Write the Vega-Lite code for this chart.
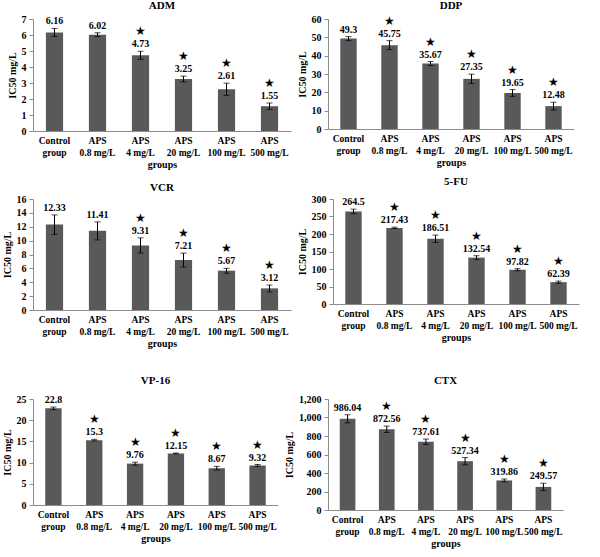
{
  "$schema": "https://vega.github.io/schema/vega-lite/v6.json",
  "padding": {"left": 2, "top": 0, "right": 2, "bottom": 2},
  "background": "white",
  "data": {"values": [
    {"drug": "ADM", "group": "Control group", "value": 6.16, "lo": 5.91, "hi": 6.41, "sig": false},
    {"drug": "ADM", "group": "APS 0.8 mg/L", "value": 6.02, "lo": 5.9, "hi": 6.14, "sig": false},
    {"drug": "ADM", "group": "APS 4 mg/L", "value": 4.73, "lo": 4.48, "hi": 4.98, "sig": true},
    {"drug": "ADM", "group": "APS 20 mg/L", "value": 3.25, "lo": 3.07, "hi": 3.43, "sig": true},
    {"drug": "ADM", "group": "APS 100 mg/L", "value": 2.61, "lo": 2.23, "hi": 2.99, "sig": true},
    {"drug": "ADM", "group": "APS 500 mg/L", "value": 1.55, "lo": 1.35, "hi": 1.75, "sig": true},
    {"drug": "DDP", "group": "Control group", "value": 49.3, "lo": 48.2, "hi": 50.4, "sig": false},
    {"drug": "DDP", "group": "APS 0.8 mg/L", "value": 45.75, "lo": 43.3, "hi": 48.2, "sig": true},
    {"drug": "DDP", "group": "APS 4 mg/L", "value": 35.67, "lo": 34.6, "hi": 36.8, "sig": true},
    {"drug": "DDP", "group": "APS 20 mg/L", "value": 27.35, "lo": 24.8, "hi": 29.9, "sig": true},
    {"drug": "DDP", "group": "APS 100 mg/L", "value": 19.65, "lo": 17.8, "hi": 21.5, "sig": true},
    {"drug": "DDP", "group": "APS 500 mg/L", "value": 12.48, "lo": 10.3, "hi": 14.6, "sig": true},
    {"drug": "VCR", "group": "Control group", "value": 12.33, "lo": 10.9, "hi": 13.7, "sig": false},
    {"drug": "VCR", "group": "APS 0.8 mg/L", "value": 11.41, "lo": 10.1, "hi": 12.7, "sig": false},
    {"drug": "VCR", "group": "APS 4 mg/L", "value": 9.31, "lo": 8.2, "hi": 10.4, "sig": true},
    {"drug": "VCR", "group": "APS 20 mg/L", "value": 7.21, "lo": 6.2, "hi": 8.2, "sig": true},
    {"drug": "VCR", "group": "APS 100 mg/L", "value": 5.67, "lo": 5.3, "hi": 6.0, "sig": true},
    {"drug": "VCR", "group": "APS 500 mg/L", "value": 3.12, "lo": 2.6, "hi": 3.6, "sig": true},
    {"drug": "5-FU", "group": "Control group", "value": 264.5, "lo": 258, "hi": 271, "sig": false},
    {"drug": "5-FU", "group": "APS 0.8 mg/L", "value": 217.43, "lo": 215.5, "hi": 219.5, "sig": true},
    {"drug": "5-FU", "group": "APS 4 mg/L", "value": 186.51, "lo": 176, "hi": 197, "sig": true},
    {"drug": "5-FU", "group": "APS 20 mg/L", "value": 132.54, "lo": 127, "hi": 138, "sig": true},
    {"drug": "5-FU", "group": "APS 100 mg/L", "value": 97.82, "lo": 95, "hi": 101, "sig": true},
    {"drug": "5-FU", "group": "APS 500 mg/L", "value": 62.39, "lo": 59, "hi": 65.5, "sig": true},
    {"drug": "VP-16", "group": "Control group", "value": 22.8, "lo": 22.5, "hi": 23.1, "sig": false},
    {"drug": "VP-16", "group": "APS 0.8 mg/L", "value": 15.3, "lo": 15.1, "hi": 15.5, "sig": true},
    {"drug": "VP-16", "group": "APS 4 mg/L", "value": 9.76, "lo": 9.4, "hi": 10.1, "sig": true},
    {"drug": "VP-16", "group": "APS 20 mg/L", "value": 12.15, "lo": 12.05, "hi": 12.25, "sig": true},
    {"drug": "VP-16", "group": "APS 100 mg/L", "value": 8.67, "lo": 8.25, "hi": 9.1, "sig": true},
    {"drug": "VP-16", "group": "APS 500 mg/L", "value": 9.32, "lo": 9.1, "hi": 9.55, "sig": true},
    {"drug": "CTX", "group": "Control group", "value": 986.04, "lo": 942, "hi": 1030, "sig": false},
    {"drug": "CTX", "group": "APS 0.8 mg/L", "value": 872.56, "lo": 838, "hi": 907, "sig": true},
    {"drug": "CTX", "group": "APS 4 mg/L", "value": 737.61, "lo": 708, "hi": 767, "sig": true},
    {"drug": "CTX", "group": "APS 20 mg/L", "value": 527.34, "lo": 488, "hi": 567, "sig": true},
    {"drug": "CTX", "group": "APS 100 mg/L", "value": 319.86, "lo": 305, "hi": 335, "sig": true},
    {"drug": "CTX", "group": "APS 500 mg/L", "value": 249.57, "lo": 210, "hi": 289, "sig": true}
  ]},
  "config": {
    "view": {"stroke": null},
    "font": "Liberation Serif",
    "title": {"font": "Liberation Serif", "fontSize": 11, "fontWeight": "bold", "color": "black", "offset": 3},
    "axis": {
      "labelFont": "Liberation Serif", "labelFontWeight": "bold", "labelFontSize": 10, "labelColor": "black",
      "titleFont": "Liberation Serif", "titleFontWeight": "bold", "titleFontSize": 10, "titleColor": "black",
      "domainColor": "#8c8c8c", "tickColor": "#8c8c8c", "grid": false, "labelOverlap": false
    },
    "axisX": {"labelAngle": 0, "ticks": false, "labelPadding": 4, "titlePadding": 3, "labelLineHeight": 12, "labelFontSize": 9.5},
    "axisY": {"tickSize": 4, "labelPadding": 3, "titlePadding": 4},
    "concat": {"spacing": 6}
  },
  "vconcat": [
    {"hconcat": [
      {
        "width": 258, "height": 112,
        "title": "ADM",
        "transform": [{"filter": "datum.drug === 'ADM'"}],
        "encoding": {"x": {"field": "group", "type": "nominal", "sort": null, "title": "groups", "scale": {"paddingInner": 0.6, "paddingOuter": 0.3},
          "axis": {"labelExpr": "[substring(datum.label,0,indexof(datum.label,' ')), substring(datum.label,indexof(datum.label,' ')+1)]"}}},
        "layer": [
          {"mark": {"type": "bar", "color": "#595959"}, "encoding": {"y": {"field": "value", "type": "quantitative", "title": "IC50 mg/L", "scale": {"domain": [0, 7], "nice": false}, "axis": {"values": [0,1,2,3,4,5,6,7], "format": "d"}}}},
          {"mark": {"type": "errorbar", "ticks": {"size": 6}, "color": "black"}, "encoding": {"y": {"field": "lo", "type": "quantitative", "title": "IC50 mg/L", "scale": {"domain": [0, 7], "nice": false}, "axis": {"values": [0,1,2,3,4,5,6,7], "format": "d"}}, "y2": {"field": "hi"}}},
          {"mark": {"type": "text", "baseline": "bottom", "dy": -2, "fontWeight": "bold", "fontSize": 10}, "encoding": {"y": {"field": "hi", "type": "quantitative", "title": "IC50 mg/L", "scale": {"domain": [0, 7], "nice": false}, "axis": {"values": [0,1,2,3,4,5,6,7], "format": "d"}}, "text": {"field": "value"}}},
          {"transform": [{"filter": "datum.sig"}], "mark": {"type": "text", "baseline": "bottom", "dy": -13, "fontSize": 12, "text": "★"}, "encoding": {"y": {"field": "hi", "type": "quantitative", "title": "IC50 mg/L", "scale": {"domain": [0, 7], "nice": false}, "axis": {"values": [0,1,2,3,4,5,6,7], "format": "d"}}}}
        ]
      },
      {
        "width": 246, "height": 110,
        "title": "DDP",
        "transform": [{"filter": "datum.drug === 'DDP'"}],
        "encoding": {"x": {"field": "group", "type": "nominal", "sort": null, "title": "groups", "scale": {"paddingInner": 0.6, "paddingOuter": 0.3},
          "axis": {"labelExpr": "[substring(datum.label,0,indexof(datum.label,' ')), substring(datum.label,indexof(datum.label,' ')+1)]"}}},
        "layer": [
          {"mark": {"type": "bar", "color": "#595959"}, "encoding": {"y": {"field": "value", "type": "quantitative", "title": "IC50 mg/L", "scale": {"domain": [0, 60], "nice": false}, "axis": {"values": [0,10,20,30,40,50,60], "format": "d"}}}},
          {"mark": {"type": "errorbar", "ticks": {"size": 6}, "color": "black"}, "encoding": {"y": {"field": "lo", "type": "quantitative", "title": "IC50 mg/L", "scale": {"domain": [0, 60], "nice": false}, "axis": {"values": [0,10,20,30,40,50,60], "format": "d"}}, "y2": {"field": "hi"}}},
          {"mark": {"type": "text", "baseline": "bottom", "dy": -2, "fontWeight": "bold", "fontSize": 10}, "encoding": {"y": {"field": "hi", "type": "quantitative", "title": "IC50 mg/L", "scale": {"domain": [0, 60], "nice": false}, "axis": {"values": [0,10,20,30,40,50,60], "format": "d"}}, "text": {"field": "value"}}},
          {"transform": [{"filter": "datum.sig"}], "mark": {"type": "text", "baseline": "bottom", "dy": -13, "fontSize": 12, "text": "★"}, "encoding": {"y": {"field": "hi", "type": "quantitative", "title": "IC50 mg/L", "scale": {"domain": [0, 60], "nice": false}, "axis": {"values": [0,10,20,30,40,50,60], "format": "d"}}}}
        ]
      }
    ]},
    {"hconcat": [
      {
        "width": 258, "height": 111,
        "title": {"text": "VCR", "offset": 1},
        "transform": [{"filter": "datum.drug === 'VCR'"}],
        "encoding": {"x": {"field": "group", "type": "nominal", "sort": null, "title": "groups", "scale": {"paddingInner": 0.6, "paddingOuter": 0.3},
          "axis": {"labelExpr": "[substring(datum.label,0,indexof(datum.label,' ')), substring(datum.label,indexof(datum.label,' ')+1)]"}}},
        "layer": [
          {"mark": {"type": "bar", "color": "#595959"}, "encoding": {"y": {"field": "value", "type": "quantitative", "title": "IC50 mg/L", "scale": {"domain": [0, 16], "nice": false}, "axis": {"values": [0,2,4,6,8,10,12,14,16], "format": "d"}}}},
          {"mark": {"type": "errorbar", "ticks": {"size": 6}, "color": "black"}, "encoding": {"y": {"field": "lo", "type": "quantitative", "title": "IC50 mg/L", "scale": {"domain": [0, 16], "nice": false}, "axis": {"values": [0,2,4,6,8,10,12,14,16], "format": "d"}}, "y2": {"field": "hi"}}},
          {"mark": {"type": "text", "baseline": "bottom", "dy": -2, "fontWeight": "bold", "fontSize": 10}, "encoding": {"y": {"field": "hi", "type": "quantitative", "title": "IC50 mg/L", "scale": {"domain": [0, 16], "nice": false}, "axis": {"values": [0,2,4,6,8,10,12,14,16], "format": "d"}}, "text": {"field": "value"}}},
          {"transform": [{"filter": "datum.sig"}], "mark": {"type": "text", "baseline": "bottom", "dy": -13, "fontSize": 12, "text": "★"}, "encoding": {"y": {"field": "hi", "type": "quantitative", "title": "IC50 mg/L", "scale": {"domain": [0, 16], "nice": false}, "axis": {"values": [0,2,4,6,8,10,12,14,16], "format": "d"}}}}
        ]
      },
      {
        "width": 246, "height": 105,
        "title": {"text": "5-FU", "offset": 7},
        "transform": [{"filter": "datum.drug === '5-FU'"}],
        "encoding": {"x": {"field": "group", "type": "nominal", "sort": null, "title": "groups", "scale": {"paddingInner": 0.6, "paddingOuter": 0.3},
          "axis": {"labelExpr": "[substring(datum.label,0,indexof(datum.label,' ')), substring(datum.label,indexof(datum.label,' ')+1)]"}}},
        "layer": [
          {"mark": {"type": "bar", "color": "#595959"}, "encoding": {"y": {"field": "value", "type": "quantitative", "title": "IC50 mg/L", "scale": {"domain": [0, 300], "nice": false}, "axis": {"values": [0,50,100,150,200,250,300], "format": "d"}}}},
          {"mark": {"type": "errorbar", "ticks": {"size": 6}, "color": "black"}, "encoding": {"y": {"field": "lo", "type": "quantitative", "title": "IC50 mg/L", "scale": {"domain": [0, 300], "nice": false}, "axis": {"values": [0,50,100,150,200,250,300], "format": "d"}}, "y2": {"field": "hi"}}},
          {"mark": {"type": "text", "baseline": "bottom", "dy": -2, "fontWeight": "bold", "fontSize": 10}, "encoding": {"y": {"field": "hi", "type": "quantitative", "title": "IC50 mg/L", "scale": {"domain": [0, 300], "nice": false}, "axis": {"values": [0,50,100,150,200,250,300], "format": "d"}}, "text": {"field": "value"}}},
          {"transform": [{"filter": "datum.sig"}], "mark": {"type": "text", "baseline": "bottom", "dy": -13, "fontSize": 12, "text": "★"}, "encoding": {"y": {"field": "hi", "type": "quantitative", "title": "IC50 mg/L", "scale": {"domain": [0, 300], "nice": false}, "axis": {"values": [0,50,100,150,200,250,300], "format": "d"}}}}
        ]
      }
    ]},
    {"hconcat": [
      {
        "width": 245, "height": 106,
        "title": {"text": ["", "VP-16"], "lineHeight": 20, "offset": 8},
        "transform": [{"filter": "datum.drug === 'VP-16'"}],
        "encoding": {"x": {"field": "group", "type": "nominal", "sort": null, "title": "groups", "scale": {"paddingInner": 0.6, "paddingOuter": 0.3},
          "axis": {"labelExpr": "[substring(datum.label,0,indexof(datum.label,' ')), substring(datum.label,indexof(datum.label,' ')+1)]"}}},
        "layer": [
          {"mark": {"type": "bar", "color": "#595959"}, "encoding": {"y": {"field": "value", "type": "quantitative", "title": "IC50 mg/L", "scale": {"domain": [0, 25], "nice": false}, "axis": {"values": [0,5,10,15,20,25], "format": "d"}}}},
          {"mark": {"type": "errorbar", "ticks": {"size": 6}, "color": "black"}, "encoding": {"y": {"field": "lo", "type": "quantitative", "title": "IC50 mg/L", "scale": {"domain": [0, 25], "nice": false}, "axis": {"values": [0,5,10,15,20,25], "format": "d"}}, "y2": {"field": "hi"}}},
          {"mark": {"type": "text", "baseline": "bottom", "dy": -2, "fontWeight": "bold", "fontSize": 10}, "encoding": {"y": {"field": "hi", "type": "quantitative", "title": "IC50 mg/L", "scale": {"domain": [0, 25], "nice": false}, "axis": {"values": [0,5,10,15,20,25], "format": "d"}}, "text": {"field": "value"}}},
          {"transform": [{"filter": "datum.sig"}], "mark": {"type": "text", "baseline": "bottom", "dy": -13, "fontSize": 12, "text": "★"}, "encoding": {"y": {"field": "hi", "type": "quantitative", "title": "IC50 mg/L", "scale": {"domain": [0, 25], "nice": false}, "axis": {"values": [0,5,10,15,20,25], "format": "d"}}}}
        ]
      },
      {
        "width": 235, "height": 111,
        "title": {"text": ["", "CTX"], "lineHeight": 16, "offset": 8},
        "transform": [{"filter": "datum.drug === 'CTX'"}],
        "encoding": {"x": {"field": "group", "type": "nominal", "sort": null, "title": "groups", "scale": {"paddingInner": 0.6, "paddingOuter": 0.3},
          "axis": {"labelExpr": "[substring(datum.label,0,indexof(datum.label,' ')), substring(datum.label,indexof(datum.label,' ')+1)]"}}},
        "layer": [
          {"mark": {"type": "bar", "color": "#595959"}, "encoding": {"y": {"field": "value", "type": "quantitative", "title": "IC50 mg/L", "scale": {"domain": [0, 1200], "nice": false}, "axis": {"values": [0,200,400,600,800,1000,1200], "format": ",d"}}}},
          {"mark": {"type": "errorbar", "ticks": {"size": 6}, "color": "black"}, "encoding": {"y": {"field": "lo", "type": "quantitative", "title": "IC50 mg/L", "scale": {"domain": [0, 1200], "nice": false}, "axis": {"values": [0,200,400,600,800,1000,1200], "format": ",d"}}, "y2": {"field": "hi"}}},
          {"mark": {"type": "text", "baseline": "bottom", "dy": -2, "fontWeight": "bold", "fontSize": 10}, "encoding": {"y": {"field": "hi", "type": "quantitative", "title": "IC50 mg/L", "scale": {"domain": [0, 1200], "nice": false}, "axis": {"values": [0,200,400,600,800,1000,1200], "format": ",d"}}, "text": {"field": "value"}}},
          {"transform": [{"filter": "datum.sig"}], "mark": {"type": "text", "baseline": "bottom", "dy": -13, "fontSize": 12, "text": "★"}, "encoding": {"y": {"field": "hi", "type": "quantitative", "title": "IC50 mg/L", "scale": {"domain": [0, 1200], "nice": false}, "axis": {"values": [0,200,400,600,800,1000,1200], "format": ",d"}}}}
        ]
      }
    ]}
  ]
}
